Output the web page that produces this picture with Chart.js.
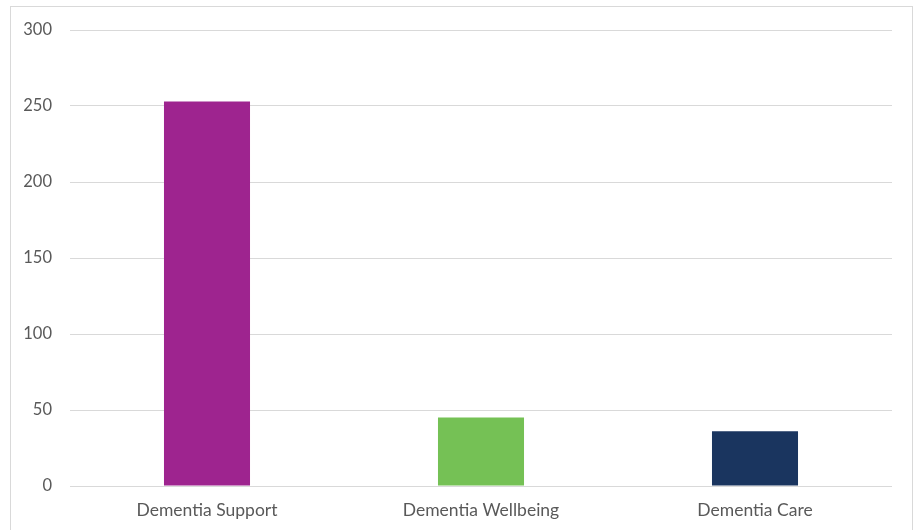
<!DOCTYPE html>
<html>
<head>
<meta charset="utf-8">
<script src="https://cdn.jsdelivr.net/npm/chart.js@4/dist/chart.umd.min.js"></script>
<style>
  body { margin: 0; background: #fff; }
  #frame { position: absolute; left: 10px; top: 6px; width: 901px; height: 540px; border: 1px solid #d9d9d9; }
  #wrap { position: absolute; left: 0; top: 0; width: 922px; height: 530px; }
</style>
</head>
<body>
<div id="frame"></div>
<div id="wrap"><canvas id="graficoBarra"></canvas></div>
<script>
// datos del grafico
var categorias = ['Dementia Support', 'Dementia Wellbeing', 'Dementia Care'];
var valores = [253, 45, 36];
var colores = ['#9E248F', '#75C155', '#1A355F'];
var ticksY = [0, 50, 100, 150, 200, 250, 300];

var datosBarra = {
  labels: categorias,
  datasets: [{
    data: valores,
    backgroundColor: colores,
    borderWidth: 0,
    barPercentage: 1,
    categoryPercentage: 0.314
  }]
};

var opciones = {
  responsive: true,
  maintainAspectRatio: false,
  animation: false,
  layout: { padding: { top: 30, right: 30, bottom: 0, left: 0 } },
  plugins: { legend: { display: false }, tooltip: { enabled: false } },
  scales: {
    x: {
      grid: { display: false, drawTicks: false },
      border: { display: false },
      ticks: { color: '#595959', font: { family: 'Lato', size: 17.5 }, padding: 14 },
      afterFit: function (s) { s.height = 44; }
    },
    y: {
      min: ticksY[0],
      max: ticksY[ticksY.length - 1],
      afterBuildTicks: function (s) { s.ticks = ticksY.map(function (v) { return { value: v }; }); },
      grid: { color: '#d9d9d9', drawTicks: false },
      border: { display: false },
      ticks: { color: '#595959', font: { family: 'Lato', size: 16.5 }, padding: 18 },
      afterFit: function (s) { s.width = 70; }
    }
  }
};

var ctxBarra = document.getElementById('graficoBarra').getContext('2d');
new Chart(ctxBarra, { type: 'bar', data: datosBarra, options: opciones });
</script>
</body>
</html>
